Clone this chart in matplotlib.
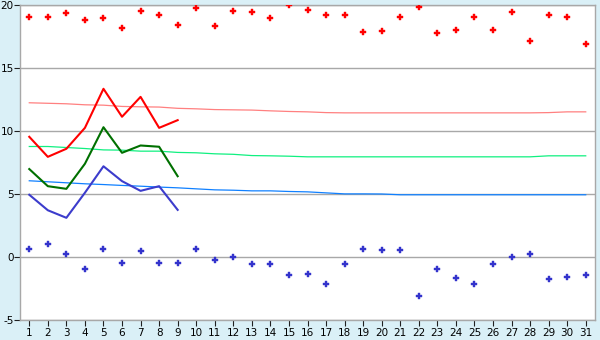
import matplotlib
matplotlib.use("Agg")
import matplotlib.pyplot as plt
import numpy as np

plt.rcParams["axes.unicode_minus"] = False

# ── data ──────────────────────────────────────────────────────────────────────
days = list(range(1, 32))

high_pts = [19.06, 19.06, 19.38, 18.80, 18.98, 18.19, 19.54, 19.22, 18.43, 19.78,
            18.35, 19.54, 19.46, 18.98, 20.00, 19.62, 19.22, 19.22, 17.87, 17.95,
            19.06, 19.86, 17.79, 18.03, 19.06, 18.03, 19.46, 17.16, 19.22, 19.06,
            16.92]
low_pts = [0.65, 1.05, 0.25, -0.94, 0.65, -0.46, 0.49, -0.46, -0.46, 0.65,
           -0.22, 0.00, -0.54, -0.54, -1.41, -1.33, -2.13, -0.54, 0.65, 0.57,
           0.57, -3.08, -0.94, -1.65, -2.13, -0.54, 0.00, 0.25, -1.73, -1.57,
           -1.41]

cur_days = list(range(1, 10))
cur_high = [9.54, 7.95, 8.59, 10.25, 13.35, 11.13, 12.71, 10.25, 10.86]
cur_mean = [6.98, 5.62, 5.41, 7.40, 10.30, 8.27, 8.85, 8.75, 6.41]
cur_low = [4.94, 3.71, 3.11, 5.10, 7.20, 6.02, 5.25, 5.62, 3.74]

norm_high = [12.24, 12.20, 12.16, 12.08, 12.05, 11.95, 11.92, 11.90, 11.80, 11.76,
             11.70, 11.68, 11.66, 11.60, 11.55, 11.52, 11.46, 11.44, 11.44, 11.44,
             11.44, 11.44, 11.44, 11.44, 11.44, 11.44, 11.44, 11.44, 11.46, 11.52,
             11.52]
norm_mean = [8.77, 8.77, 8.69, 8.61, 8.50, 8.48, 8.40, 8.40, 8.30, 8.27,
             8.19, 8.15, 8.05, 8.03, 8.00, 7.95, 7.95, 7.95, 7.95, 7.95,
             7.95, 7.95, 7.95, 7.95, 7.95, 7.95, 7.95, 7.95, 8.03, 8.03,
             8.03]
norm_low = [6.05, 5.97, 5.89, 5.81, 5.75, 5.68, 5.62, 5.55, 5.49, 5.41,
            5.33, 5.30, 5.25, 5.25, 5.20, 5.17, 5.09, 5.01, 5.01, 5.00,
            4.94, 4.94, 4.94, 4.94, 4.94, 4.94, 4.94, 4.94, 4.94, 4.94,
            4.94]

# ── plot ──────────────────────────────────────────────────────────────────────
BG = "#daf0f7"
GRID = "#a8a8a8"

fig = plt.figure(figsize=(6.0, 3.4), dpi=100, facecolor=BG)
ax = fig.add_axes([20 / 600, 20 / 340, 575 / 600, 315 / 340])
ax.set_facecolor("white")

ax.plot(days, norm_high, color="#ff8080", lw=0.9, zorder=2)
ax.plot(days, norm_mean, color="#10f080", lw=0.9, zorder=2)
ax.plot(days, norm_low, color="#1080ff", lw=0.9, zorder=2)

ax.plot(cur_days, cur_high, color="#ff0000", lw=1.5, zorder=3)
ax.plot(cur_days, cur_mean, color="#007000", lw=1.5, zorder=3)
ax.plot(cur_days, cur_low, color="#3c3ccc", lw=1.5, zorder=3)

ax.plot(days, high_pts, ls="none", marker="P", ms=4.5, color="#ff0000",
        mec="#ff0000", mew=0.3, zorder=4)
ax.plot(days, low_pts, ls="none", marker="P", ms=4.5, color="#3333cc",
        mec="#3333cc", mew=0.3, zorder=4)

ax.set_xlim(0.5, 31.5)
ax.set_ylim(-5, 20)
ax.set_xticks(days)
ax.set_yticks([-5, 0, 5, 10, 15, 20])
ax.yaxis.grid(True, color=GRID, lw=1.0, zorder=1)
ax.set_axisbelow(True)
for s in ax.spines.values():
    s.set_color(GRID)
    s.set_linewidth(1.0)
ax.tick_params(axis="both", labelsize=7.5, length=4, width=0.8, color="#202020",
               labelcolor="black")
ax.tick_params(axis="x", pad=1.5)
ax.tick_params(axis="y", pad=0.5)

fig.savefig("out.png", dpi=100, facecolor=BG)
